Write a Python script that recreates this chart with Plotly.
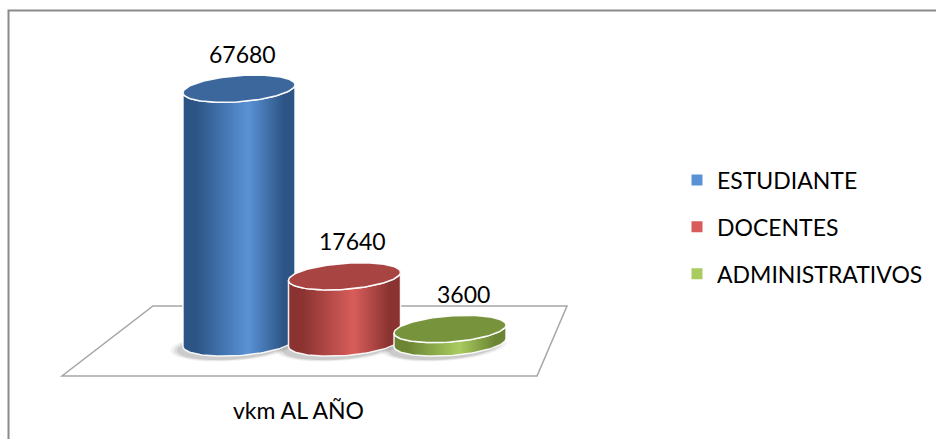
import numpy as np
import plotly.graph_objects as go

# ---- data -------------------------------------------------------------
categories = ["ESTUDIANTE", "DOCENTES", "ADMINISTRATIVOS"]
values = [67680, 17640, 3600]
axis_label = "vkm AL AÑO"

# ---- colours ----------------------------------------------------------
side_dark = ["#2c5585", "#8a3331", "#6b8533"]
side_light = ["#5a92d6", "#d85d5a", "#a9cb60"]
top_colors = ["#3c679d", "#a84441", "#77933c"]

# ---- layout geometry (pixels of the 936x439 canvas) -------------------
W, H = 936, 439
PX_PER_VAL = 0.00375          # vertical scale of the value axis
BASE_PX = 342.5               # screen row of the zero level
X0_PX, STEP_PX = 239, 105.5   # first category centre and spacing
VAL_PER_PX = 1 / PX_PER_VAL

y_range = [-(H - BASE_PX) * VAL_PER_PX, BASE_PX * VAL_PER_PX]
x_range = [-X0_PX / STEP_PX, (W - X0_PX) / STEP_PX]

half_w = 56 / STEP_PX          # cylinder radius in category units
half_h = 13 * VAL_PER_PX       # ellipse half height in value units
skew = 4 * VAL_PER_PX          # slight tilt of the ellipses

t_front = np.linspace(np.pi, 2 * np.pi, 60)
t_full = np.linspace(0, 2 * np.pi, 121)


def ellipse(cx, level, t, a=half_w, b=half_h):
    return cx + a * np.cos(t), level + b * np.sin(t) + skew * np.cos(t)


fig = go.Figure()

# soft shadows under each cylinder
for i, v in enumerate(values):
    for k, alpha in enumerate([0.05, 0.07, 0.09]):
        grow = 1.0 + 0.06 * (2 - k)
        sx, sy = ellipse(i - 6 / STEP_PX, -4 * VAL_PER_PX, t_full,
                         a=half_w * grow, b=half_h * grow)
        fig.add_trace(go.Scatter(x=sx, y=sy, mode="lines", fill="toself",
                                 fillcolor=f"rgba(0,0,0,{alpha})",
                                 line=dict(width=0), hoverinfo="skip",
                                 showlegend=False))

# cylinders: body (front half) then the top face
for i, v in enumerate(values):
    tx, ty = ellipse(i, v, t_front)
    bx, by = ellipse(i, 0, t_front[::-1])
    fig.add_trace(go.Scatter(
        x=np.concatenate([tx, bx, [tx[0]]]),
        y=np.concatenate([ty, by, [ty[0]]]),
        mode="lines", fill="toself",
        fillgradient=dict(type="horizontal",
                          colorscale=[[0, side_dark[i]], [0.12, side_dark[i]],
                                      [0.58, side_light[i]], [0.9, side_dark[i]],
                                      [1, side_dark[i]]]),
        line=dict(color="rgba(255,255,255,0.9)", width=1.5),
        hoverinfo="skip", showlegend=False))
    ex, ey = ellipse(i, v, t_full)
    fig.add_trace(go.Scatter(
        x=ex, y=ey, mode="lines", fill="toself", fillcolor=top_colors[i],
        line=dict(color="rgba(255,255,255,0.95)", width=1.5),
        hoverinfo="skip", showlegend=False))

# legend entries
for i, name in enumerate(categories):
    fig.add_trace(go.Scatter(
        x=[None], y=[None], mode="markers", name=name, legendgroup=name,
        marker=dict(symbol="square", size=11, color=side_light[i])))

# value labels
for i, v in enumerate(values):
    fig.add_annotation(x=i, y=v, text=str(v), showarrow=False,
                       xanchor="center", yanchor="middle",
                       xshift=3 + 5 * i, yshift=35,
                       font=dict(size=23, color="#000000"))

# category label
fig.add_annotation(x=298 / W, y=1 - 410 / H, xref="paper", yref="paper",
                   xanchor="center", yanchor="middle",
                   text=axis_label, showarrow=False,
                   font=dict(size=23, color="#000000"))

# floor of the plot area
floor = [(153, 306), (567, 306), (537, 376), (62, 376)]
path = "M " + " L ".join(f"{x / W:.5f},{1 - y / H:.5f}" for x, y in floor) + " Z"
fig.add_shape(type="path", path=path, xref="paper", yref="paper",
              line=dict(color="#a6a6a6", width=1.5), fillcolor="white",
              layer="below")

# chart border
fig.add_shape(type="rect", xref="paper", yref="paper",
              x0=8.5 / W, y0=1 - 10.5 / H, x1=1.02, y1=-0.02,
              line=dict(color="#8a8a8a", width=2), layer="above")

fig.update_layout(
    width=W, height=H,
    margin=dict(l=0, r=0, t=0, b=0),
    paper_bgcolor="white", plot_bgcolor="white",
    font=dict(family="Lato, Open Sans, sans-serif", color="#000000"),
    xaxis=dict(range=x_range, visible=False, fixedrange=True),
    yaxis=dict(range=y_range, visible=False, fixedrange=True),
    legend=dict(x=677 / W, y=1 - 158.5 / H, xanchor="left", yanchor="top",
                font=dict(size=23), bgcolor="rgba(0,0,0,0)",
                tracegroupgap=14, itemclick=False, itemdoubleclick=False),
    showlegend=True,
)

fig.write_html("out.html")
